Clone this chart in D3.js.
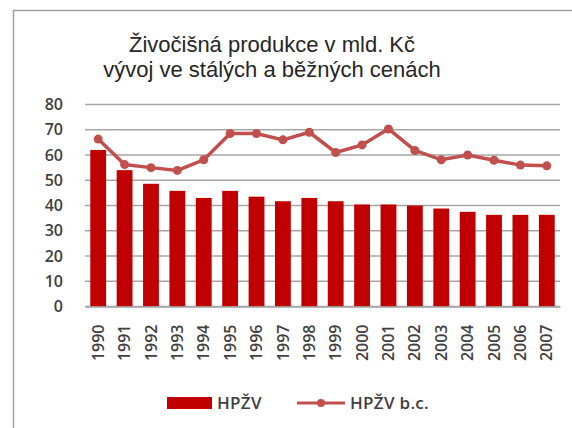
<!DOCTYPE html>
<html>
<head>
<meta charset="utf-8">
<style>
  body { margin: 0; background: #fff; }
  text { font-family: "Open Sans", sans-serif; fill: #404040; }
  .title { font-family: "Liberation Sans", Arial, sans-serif; font-size: 22px; text-anchor: middle; fill: #262626; }
  .grid line { stroke: #a6a6a6; stroke-width: 1.5px; }
  .tick text { font-size: 16px; font-weight: 600; }
  .legend text { font-size: 17px; font-weight: 600; letter-spacing: 0.3px; }
</style>
</head>
<body>
<div id="chart"></div>
<script src="https://d3js.org/d3.v7.min.js"></script>
<script>
  var years = ["1990","1991","1992","1993","1994","1995","1996","1997","1998",
               "1999","2000","2001","2002","2003","2004","2005","2006","2007"];
  var hpzv = [62, 54, 48.6, 45.8, 43, 45.8, 43.5, 41.7, 43, 41.7, 40.4, 40.4, 40, 38.8, 37.5, 36.3, 36.3, 36.3];
  var hpzvBc = [66.3, 56.2, 55, 53.9, 58.1, 68.5, 68.5, 66, 69, 61, 64, 70.3, 61.8, 58.1, 60, 57.9, 56, 55.7];
  var yTicks = [0, 10, 20, 30, 40, 50, 60, 70, 80];
  var titleLines = ["Živočišná produkce v mld. Kč", "vývoj ve stálých a běžných cenách"];
  var seriesNames = ["HPŽV", "HPŽV b.c."];

  var width = 572, height = 428;
  var svg = d3.select("#chart").append("svg")
      .attr("width", width)
      .attr("height", height);

  // frame (right and bottom edges fall outside the picture)
  svg.append("path")
      .attr("d", "M13.5,428V10.5H572")
      .attr("fill", "none")
      .attr("stroke", "#a0a0a0")
      .attr("stroke-width", 1.5);

  svg.selectAll(".title")
      .data(titleLines)
    .enter().append("text")
      .attr("class", "title")
      .attr("x", 272)
      .attr("y", function(d, i) { return 52 + i * 25; })
      .text(function(d) { return d; });

  var x = d3.scaleBand().domain(years).range([85, 560]).paddingInner(0.4).paddingOuter(0.2);
  var y = d3.scaleLinear().domain([0, 80]).range([306.5, 104.5]);

  svg.append("g")
      .attr("class", "grid")
      .selectAll("line")
      .data(yTicks)
    .enter().append("line")
      .attr("x1", 85).attr("x2", 560)
      .attr("y1", function(d) { return y(d); })
      .attr("y2", function(d) { return y(d); });

  var yAxis = svg.append("g")
      .attr("transform", "translate(85,0)")
      .call(d3.axisLeft(y).tickValues(yTicks).tickSize(0).tickPadding(22));
  yAxis.select(".domain").remove();

  svg.append("g")
      .selectAll("rect")
      .data(hpzv)
    .enter().append("rect")
      .attr("x", function(d, i) { return x(years[i]); })
      .attr("width", x.bandwidth())
      .attr("y", function(d) { return y(d); })
      .attr("height", function(d) { return y(0) - y(d); })
      .attr("fill", "#c00000");

  var line = d3.line()
      .x(function(d, i) { return x(years[i]) + x.bandwidth() / 2; })
      .y(function(d) { return y(d); });

  svg.append("path")
      .datum(hpzvBc)
      .attr("d", line)
      .attr("fill", "none")
      .attr("stroke", "#c0504d")
      .attr("stroke-width", 3.5);

  svg.append("g")
      .selectAll("circle")
      .data(hpzvBc)
    .enter().append("circle")
      .attr("cx", function(d, i) { return x(years[i]) + x.bandwidth() / 2; })
      .attr("cy", function(d) { return y(d); })
      .attr("r", 4.5)
      .attr("fill", "#c0504d");

  var xAxis = svg.append("g")
      .attr("transform", "translate(0,306.5)")
      .call(d3.axisBottom(x).tickSize(0).tickPadding(0));
  xAxis.select(".domain")
      .attr("stroke", "#a6a6a6").attr("stroke-width", 1.5);
  xAxis.selectAll(".tick text")
      .attr("transform", "rotate(-90)")
      .attr("text-anchor", "end")
      .attr("x", -18)
      .attr("y", 0)
      .attr("dy", "0.35em");

  var legend = svg.append("g").attr("class", "legend");
  legend.append("rect")
      .attr("x", 167).attr("y", 397).attr("width", 45).attr("height", 12)
      .attr("fill", "#c00000");
  legend.append("text")
      .attr("x", 217).attr("y", 403).attr("dy", "0.35em")
      .text(seriesNames[0]);
  legend.append("line")
      .attr("x1", 297).attr("x2", 345).attr("y1", 403).attr("y2", 403)
      .attr("stroke", "#c0504d").attr("stroke-width", 3);
  legend.append("circle")
      .attr("cx", 321).attr("cy", 403).attr("r", 4)
      .attr("fill", "#c0504d");
  legend.append("text")
      .attr("x", 350).attr("y", 403).attr("dy", "0.35em")
      .text(seriesNames[1]);
</script>
</body>
</html>
